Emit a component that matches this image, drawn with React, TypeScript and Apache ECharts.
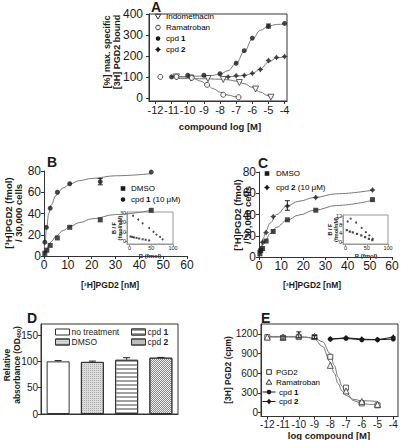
import React, { useEffect, useRef } from 'react';
import * as echarts from 'echarts';

const FONT = '"Liberation Sans", Arial, sans-serif';
const INK = '#1a1a1a';
const FIT = '#777';

// ---------- Panel A ----------
const aTicksX = [-12, -11, -10, -9, -8, -7, -6, -5, -4];
const aTicksY = [0, 100, 200, 300, 400];
const aIndometh = [[-10.7, 100], [-9.8, 95], [-8.75, 92], [-7.8, 88], [-6.8, 73], [-5.8, 42], [-4.85, 3]];
const aRamatroban = [[-11.7, 100], [-10.7, 100], [-9.75, 95], [-8.8, 62], [-7.8, 15], [-6.85, 3]];
const aCpd1 = [[-11, 100], [-10, 108], [-9, 108], [-8, 115], [-7, 165], [-6.5, 225], [-6, 285], [-5, 342], [-4, 355]];
const aCpd2 = [[-7.5, 100], [-7, 106], [-6.5, 107], [-6, 117], [-5.5, 135], [-5, 178], [-4.5, 193], [-4, 197]];
const aErr = [[-5, 333, 352]];
const aFitCpd1 = [[-11, 101], [-10, 102], [-9, 104], [-8.5, 107], [-8, 113], [-7.5, 130], [-7, 165], [-6.5, 220], [-6, 280], [-5.5, 322], [-5, 342], [-4.5, 350], [-4, 353]];
const aFitCpd2 = [[-7.6, 100], [-7, 103], [-6.5, 107], [-6, 116], [-5.5, 138], [-5, 170], [-4.5, 190], [-4, 197]];
const aFitIndo = [[-10.7, 92], [-10, 92], [-9, 91], [-8, 89], [-7.5, 86], [-7, 80], [-6.5, 68], [-6, 50], [-5.5, 27], [-5, 10], [-4.7, 4]];
const aFitRama = [[-10.7, 100], [-10.2, 99], [-9.7, 94], [-9.2, 80], [-8.8, 62], [-8.4, 43], [-8, 27], [-7.5, 13], [-7, 5], [-6.7, 3]];

// ---------- Panel B ----------
const bTicksX = [0, 10, 20, 30, 40, 50, 60];
const bTicksY = [0, 20, 40, 60, 80];
const bDmso = [[0.35, 2.5], [1.2, 5.5], [2.6, 10], [5.6, 17], [10.8, 27], [23.6, 34], [45, 43]];
const bCpd1 = [[0.35, 13], [1, 27], [2.6, 45], [5.6, 60], [10.8, 68], [23.6, 70], [45, 79]];
const bErr = [[23.6, 67, 73]];
const bFitCpd1 = [[0, 0], [0.5, 15], [1, 25], [2, 40], [3, 48], [5, 57], [8, 64], [11, 68], [15, 71], [20, 73], [30, 75.5], [45, 77.5]];
const bFitDmso = [[0, 0], [1, 5.5], [2, 10], [3, 13.5], [5, 18.5], [8, 24], [11, 28], [15, 31.5], [20, 35], [30, 39], [45, 43]];
const bInTicksX = [0, 50, 100];
const bInTicksY = [0, 10, 20, 30];
const bInCpd1 = [[8, 27], [20, 23], [30, 19], [45, 14], [55, 10], [62, 7], [70, 4.5], [76, 2]];
const bInDmso = [[2, 5], [6, 4.5], [10, 4], [16, 3.5], [22, 2.8], [30, 2], [37, 1.5], [45, 0.8]];

// ---------- Panel C ----------
const cTicksX = [0, 10, 20, 30, 40, 50, 60];
const cTicksY = [0, 20, 40, 60, 80];
const cDmso = [[0.4, 3], [0.8, 6], [1.6, 8], [3.2, 15], [6.4, 24], [12.8, 35], [25.6, 44], [51.2, 54]];
const cCpd2 = [[0.4, 6], [1.6, 14], [3.2, 23], [6.4, 38], [12.8, 48], [25.6, 56], [51.2, 63]];
const cErr = [[12.8, 44, 53]];
const cFitCpd2 = [[0, 0], [1, 10], [2, 18], [3, 24], [5, 32], [8, 40], [12.5, 48], [18, 52.5], [25, 56], [35, 59.5], [51.5, 63]];
const cFitDmso = [[0, 0], [1, 6.5], [2, 12], [3, 16], [5, 22], [8, 28], [12.5, 34.5], [18, 39.5], [25, 44], [35, 48.5], [51.5, 53.5]];
const cInTicksX = [0, 50, 100];
const cInTicksY = [0, 4, 8, 12];
const cInCpd2 = [[5, 9.5], [12, 10.8], [25, 9], [38, 6.5], [48, 4.5], [56, 3], [64, 1.5]];
const cInDmso = [[3, 5.5], [10, 4.8], [17, 4.4], [27, 3.7], [37, 3], [46, 2.2], [55, 1.4], [63, 0.8]];

// ---------- Panel D ----------
const dCategories = ['no treatment', 'DMSO', 'cpd 1', 'cpd 2'];
const dValues = [100, 99, 103, 107];
const dErrTop = [101.5, 100.5, 107, 107.5];
const dTicksY = [0, 50, 100, 150];

// ---------- Panel E ----------
const eTicksX = [-12, -11, -10, -9, -8, -7, -6, -5, -4];
const eTicksY = [0, 300, 600, 900, 1200];
const ePgd2 = [[-12, 1150], [-11, 1140], [-10, 1150], [-9, 1150], [-8, 850], [-7, 380], [-6, 140], [-5, 110]];
const eRama = [[-12, 1150], [-11, 1150], [-10, 1180], [-9, 1160], [-8, 720], [-7, 330], [-6, 170], [-5, 125]];
const eCpd1 = [[-8, 1120], [-7, 1130], [-6, 1110], [-5, 1110], [-4, 1120]];
const eCpd2 = [[-8, 1120], [-7, 1140], [-6, 1120], [-5, 1110], [-4, 1150]];
const eErr = [[-10, 1140, 1230], [-11, 1120, 1165], [-9, 1130, 1175]];
const eFitPgd2 = [[-12, 1150], [-10, 1150], [-9, 1140], [-8.5, 1080], [-8, 900], [-7.75, 720], [-7.5, 540], [-7.25, 400], [-7, 300], [-6.5, 180], [-6, 140], [-5.5, 125], [-5, 120]];
const eFitRama = [[-12, 1160], [-10, 1160], [-9.5, 1150], [-9, 1120], [-8.5, 1010], [-8, 770], [-7.75, 600], [-7.5, 440], [-7.25, 330], [-7, 260], [-6.5, 200], [-6, 180], [-5, 170]];

const STAR = 'path://M0,-5L2,-2L5,0L2,2L0,5L-2,2L-5,0L-2,-2Z';
const STAR_PTS = [[0, -5], [2, -2], [5, 0], [2, 2], [0, 5], [-2, 2], [-5, 0], [-2, -2]];

const D_LABELS: Record<string, string> = {
  d_none: 'no treatment', d_dmso: 'DMSO', d_cpd1: '{t|cpd }{b|1}', d_cpd2: '{t|cpd }{b|2}',
};

const A_XMIN = -12.4;

function valAxis(gridIndex: number, min: number, max: number, ticks: number[], fontSize: number, color = '#333', tick = 3, margin = 3, showLabel = true) {
  return {
    type: 'value', gridIndex, min, max,
    axisLine: { show: true, onZero: false, lineStyle: { color, width: 1 } },
    axisTick: { show: true, length: tick, customValues: ticks, lineStyle: { color, width: 1 } },
    axisLabel: {
      show: showLabel,
      customValues: ticks, fontSize, color: INK, fontFamily: FONT, margin,
      showMinLabel: true, showMaxLabel: true, hideOverlap: false,
      formatter: (v: number) => String(v),
    },
    splitLine: { show: false },
  };
}

function errSeries(x: number, y: number, data: number[][], cap: number, upOnly = false) {
  return {
    type: 'custom', xAxisIndex: x, yAxisIndex: y, data, silent: true, z: 5,
    renderItem: (_p: any, api: any) => {
      const xv = api.value(0), lo = api.value(1), hi = api.value(2);
      const p1 = api.coord([xv, lo]);
      const p2 = api.coord([xv, hi]);
      const st = { stroke: '#222', lineWidth: 1 };
      const ch: any[] = [
        { type: 'line', shape: { x1: p1[0], y1: p1[1], x2: p2[0], y2: p2[1] }, style: st },
        { type: 'line', shape: { x1: p2[0] - cap, y1: p2[1], x2: p2[0] + cap, y2: p2[1] }, style: st },
      ];
      if (!upOnly) ch.push({ type: 'line', shape: { x1: p1[0] - cap, y1: p1[1], x2: p1[0] + cap, y2: p1[1] }, style: st });
      return { type: 'group', children: ch };
    },
  };
}

// tick labels for panel A's y axis, placed through the axis scale
function tickLabelSeries(x: number, y: number, xAt: number, ticks: number[], fs: number) {
  return {
    type: 'custom', xAxisIndex: x, yAxisIndex: y, data: ticks.map((v) => [xAt, v]), silent: true, clip: false, z: 6,
    renderItem: (_p: any, api: any) => {
      const v = api.value(1);
      const pt = api.coord([api.value(0), v]);
      return {
        type: 'text', x: pt[0] - 6, y: pt[1],
        style: { text: String(v), fontSize: fs, fontFamily: FONT, fill: INK, align: 'right', verticalAlign: 'middle' },
      };
    },
  };
}

function fit(x: number, y: number, data: number[][]) {
  return {
    type: 'line', xAxisIndex: x, yAxisIndex: y, data, showSymbol: false, symbol: 'none',
    smooth: 0.4, smoothMonotone: 'x', silent: true, z: 2,
    lineStyle: { color: FIT, width: 1 },
  };
}

function pts(name: string, x: number, y: number, data: number[][], symbol: string, size: number, filled: boolean, rotate = 0) {
  return {
    type: 'scatter', name, xAxisIndex: x, yAxisIndex: y, data, symbol, symbolSize: size, symbolRotate: rotate, z: 4,
    itemStyle: filled ? { color: INK } : { color: '#fff', borderColor: '#333', borderWidth: 1 },
  };
}

function marker(kind: string, x: number, y: number): any[] {
  const stroke = { fill: '#fff', stroke: '#333', lineWidth: 1 };
  const fill = { fill: INK };
  const star = (cx: number) => ({ type: 'polygon', shape: { points: STAR_PTS.map(([a, b]) => [cx + a * 0.6, y + b * 0.6]) }, style: fill });
  switch (kind) {
    case 'circle': return [{ type: 'circle', shape: { cx: x, cy: y, r: 2.3 }, style: fill }];
    case 'ecircle': return [{ type: 'circle', shape: { cx: x, cy: y, r: 2.3 }, style: stroke }];
    case 'square': return [{ type: 'rect', shape: { x: x - 2.3, y: y - 2.3, width: 4.6, height: 4.6 }, style: fill }];
    case 'esquare': return [{ type: 'rect', shape: { x: x - 2.3, y: y - 2.3, width: 4.6, height: 4.6 }, style: stroke }];
    case 'etridown': return [{ type: 'polygon', shape: { points: [[x - 2.8, y - 2.2], [x + 2.8, y - 2.2], [x, y + 2.6]] }, style: stroke }];
    case 'etriup': return [{ type: 'polygon', shape: { points: [[x - 2.8, y + 2.2], [x + 2.8, y + 2.2], [x, y - 2.6]] }, style: stroke }];
    case 'star': return [star(x)];
    case 'lcircle': return [
      { type: 'line', shape: { x1: x - 6.5, y1: y, x2: x + 6.5, y2: y }, style: { stroke: INK, lineWidth: 1 } },
      { type: 'circle', shape: { cx: x, cy: y, r: 2.3 }, style: fill }];
    case 'lstar': return [
      { type: 'line', shape: { x1: x - 6.5, y1: y, x2: x + 6.5, y2: y }, style: { stroke: INK, lineWidth: 1 } },
      star(x)];
  }
  return [];
}

function legendText(x: number, y: number, text: string, fs: number) {
  return {
    type: 'text', x, y, silent: true,
    style: {
      text, fontSize: fs, fontFamily: FONT, fill: '#000', align: 'left', verticalAlign: 'middle', lineHeight: fs,
      rich: {
        t: { fontSize: fs, fontFamily: FONT, fill: '#000', lineHeight: fs },
        b: { fontSize: fs, fontFamily: FONT, fill: '#000', fontWeight: 'bold', lineHeight: fs },
      },
    },
  };
}

function legendItem(kind: string, mx: number, tx: number, y: number, text: string, fs: number): any[] {
  return [...marker(kind, mx, y), legendText(tx, y, text, fs)];
}

function txt(x: number, y: number, text: string, size: number, opts: any = {}) {
  return {
    type: 'text', x, y, rotation: opts.rot ? Math.PI / 2 : 0, silent: true,
    style: {
      text, fontSize: size, fontFamily: FONT, fontWeight: opts.weight || 'bold', fill: INK,
      align: opts.align || 'center', verticalAlign: 'middle', lineHeight: opts.lh || size * 1.1,
      rich: opts.rich,
    },
  };
}

export default function App() {
  const ref = useRef<HTMLDivElement>(null);
  useEffect(() => {
    const chart = echarts.init(ref.current!, null, { renderer: 'svg', width: 401, height: 440 });
    const frame = { show: true, borderColor: '#333', borderWidth: 1 };
    const insetFrame = { show: true, borderColor: '#999', borderWidth: 1 };
    const ob = { outerBoundsMode: 'none', containLabel: false };
    const option: any = {
      animation: false,
      backgroundColor: '#fff',
      textStyle: { fontFamily: FONT },
      grid: [
        { left: 149, top: 14, width: 138, height: 87, ...frame, ...ob },         // 0 A
        { left: 44, top: 171, width: 143, height: 85, ...ob },                   // 1 B
        { left: 127, top: 212, width: 46, height: 32, ...insetFrame, ...ob },    // 2 B inset
        { left: 259, top: 172, width: 133, height: 85, ...ob },                  // 3 C
        { left: 343, top: 215, width: 45, height: 29, ...insetFrame, ...ob },    // 4 C inset
        { left: 41, top: 324, width: 137, height: 90, ...frame, ...ob },         // 5 D
        { left: 261, top: 324, width: 137, height: 92.5, ...frame, ...ob },      // 6 E
      ],
      xAxis: [
        valAxis(0, A_XMIN, -3.85, aTicksX, 11),
        valAxis(1, 0, 60, bTicksX, 12),
        valAxis(2, -6, 100, bInTicksX, 5.5, '#999', 2, 1),
        valAxis(3, 0, 60, cTicksX, 12),
        valAxis(4, -6, 100, cInTicksX, 5.5, '#999', 2, 1),
        {
          type: 'category', gridIndex: 5, data: dCategories,
          axisLine: { show: true, lineStyle: { color: '#333' } }, axisTick: { show: false }, axisLabel: { show: false },
        },
        valAxis(6, -12.4, -3.7, eTicksX, 10),
      ],
      yAxis: [
        valAxis(0, -15, 400, aTicksY, 12, '#333', 3, 3, false),
        valAxis(1, 0, 80, bTicksY, 12),
        valAxis(2, -3, 31, bInTicksY, 5.5, '#999', 2, 1),
        valAxis(3, 0, 80, cTicksY, 12),
        valAxis(4, -1, 12.5, cInTicksY, 5.5, '#999', 2, 1),
        valAxis(5, 0, 171, dTicksY, 10),
        valAxis(6, -60, 1350, eTicksY, 10),
      ],
      legend: [
        {
          orient: 'vertical', left: 55, top: 327, data: ['d_none', 'd_dmso'], itemWidth: 14, itemHeight: 6, itemGap: 0, padding: 0,
          icon: 'rect', selectedMode: false, formatter: (n: string) => D_LABELS[n],
          itemStyle: { borderWidth: 1, borderColor: '#333' },
          textStyle: { fontSize: 8.5, lineHeight: 10, color: INK, fontFamily: FONT, padding: [0, 0, 0, -3] },
        },
        {
          orient: 'vertical', left: 131, top: 327, data: ['d_cpd1', 'd_cpd2'], itemWidth: 14, itemHeight: 6, itemGap: 0, padding: 0,
          icon: 'rect', selectedMode: false, formatter: (n: string) => D_LABELS[n],
          itemStyle: { borderWidth: 1, borderColor: '#333' },
          textStyle: {
            fontSize: 8.5, lineHeight: 10, color: INK, fontFamily: FONT, padding: [0, 0, 0, -3],
            rich: { t: { fontSize: 8.5, fontFamily: FONT, color: INK }, b: { fontSize: 8.5, fontFamily: FONT, color: INK, fontWeight: 'bold' } },
          },
        },
      ],
      series: [
        // A
        fit(0, 0, aFitCpd1), fit(0, 0, aFitCpd2), fit(0, 0, aFitIndo), fit(0, 0, aFitRama),
        pts('a_indo', 0, 0, aIndometh, 'triangle', 6, false, 180),
        pts('a_rama', 0, 0, aRamatroban, 'circle', 5, false),
        pts('a_cpd1', 0, 0, aCpd1, 'circle', 5, true),
        pts('a_cpd2', 0, 0, aCpd2, STAR, 6, true),
        errSeries(0, 0, aErr, 2.5),
        tickLabelSeries(0, 0, A_XMIN, aTicksY, 12),
        // B
        fit(1, 1, bFitCpd1), fit(1, 1, bFitDmso),
        pts('b_dmso', 1, 1, bDmso, 'rect', 5, true),
        pts('b_cpd1', 1, 1, bCpd1, 'circle', 5, true),
        errSeries(1, 1, bErr, 2.5),
        // B inset
        pts('bi1', 2, 2, bInCpd1, 'circle', 2, true),
        pts('bi2', 2, 2, bInDmso, 'rect', 2, true),
        // C
        fit(3, 3, cFitCpd2), fit(3, 3, cFitDmso),
        pts('c_dmso', 3, 3, cDmso, 'rect', 5, true),
        pts('c_cpd2', 3, 3, cCpd2, STAR, 6, true),
        errSeries(3, 3, cErr, 2.5),
        // C inset
        pts('ci1', 4, 4, cInCpd2, 'circle', 2.2, true),
        pts('ci2', 4, 4, cInDmso, 'rect', 2.2, true),
        // D
        {
          type: 'bar', name: 'd_none', xAxisIndex: 5, yAxisIndex: 5, barWidth: 23, barGap: '-100%',
          data: [dValues[0], '-', '-', '-'],
          itemStyle: { color: '#fff', borderColor: '#333', borderWidth: 1 },
        },
        {
          type: 'bar', name: 'd_dmso', xAxisIndex: 5, yAxisIndex: 5, barWidth: 23, barGap: '-100%',
          data: ['-', dValues[1], '-', '-'],
          itemStyle: {
            color: '#dcdcdc', borderColor: '#333', borderWidth: 1,
            decal: { symbol: 'rect', symbolSize: 1, dashArrayX: [1, 1], dashArrayY: [1, 1], color: 'rgba(110,110,110,0.45)' },
          },
        },
        {
          type: 'bar', name: 'd_cpd1', xAxisIndex: 5, yAxisIndex: 5, barWidth: 23, barGap: '-100%',
          data: ['-', '-', dValues[2], '-'],
          itemStyle: {
            color: '#fff', borderColor: '#333', borderWidth: 1,
            decal: { symbol: 'rect', symbolSize: 1, dashArrayX: [1, 0], dashArrayY: [1.5, 1.5], color: '#a0a0a0' },
          },
        },
        {
          type: 'bar', name: 'd_cpd2', xAxisIndex: 5, yAxisIndex: 5, barWidth: 23, barGap: '-100%',
          data: ['-', '-', '-', dValues[3]],
          itemStyle: {
            color: '#efefef', borderColor: '#333', borderWidth: 1,
            decal: { symbol: 'rect', symbolSize: 1, dashArrayX: [[1, 1], [0, 1, 1, 0]], dashArrayY: [1, 0], color: '#8a8a8a' },
          },
        },
        errSeries(5, 5, dValues.map((v, i) => [i, v, dErrTop[i]]), 3.5, true),
        // E
        fit(6, 6, eFitPgd2), fit(6, 6, eFitRama),
        pts('e_pgd2', 6, 6, ePgd2, 'rect', 5, false),
        pts('e_rama', 6, 6, eRama, 'triangle', 6, false),
        {
          type: 'line', name: 'e_cpd1', xAxisIndex: 6, yAxisIndex: 6, data: eCpd1, symbol: 'circle', symbolSize: 5,
          itemStyle: { color: INK }, lineStyle: { color: INK, width: 1 }, z: 4,
        },
        {
          type: 'line', name: 'e_cpd2', xAxisIndex: 6, yAxisIndex: 6, data: eCpd2, symbol: STAR, symbolSize: 6,
          itemStyle: { color: INK }, lineStyle: { color: INK, width: 1 }, z: 4,
        },
        errSeries(6, 6, eErr, 2.5),
      ],
      graphic: [
        txt(151, 7, 'A', 14, { align: 'left' }),
        txt(112, 52, '[%] max. specific\n[3H] PGD2 bound', 9, { rot: true, lh: 10 }),
        txt(220, 126, 'compound log [M]', 9.5),
        txt(47, 162, 'B', 14, { align: 'left' }),
        txt(13, 213, '[³H]PGD2 (fmol)\n/ 30,000 cells', 9.5, { rot: true, lh: 10 }),
        txt(110, 285, '[³H]PGD2 [nM]', 8.5),
        txt(117, 228, 'B / F\n(fmol/nM)', 5.5, { rot: true, lh: 6 }),
        txt(150, 255.5, 'B (fmol)', 6),
        txt(258, 163, 'C', 14, { align: 'left' }),
        txt(242, 215, '[³H]PGD2 (fmol)\n/ 30,000 cells', 9.5, { rot: true, lh: 10 }),
        txt(312, 285, '[³H]PGD2 [nM]', 8.5),
        txt(333, 229.5, 'B / F\n(fmol/nM)', 5.5, { rot: true, lh: 6 }),
        txt(366, 255.5, 'B (fmol)', 6),
        txt(27, 318, 'D', 14, { align: 'left' }),
        txt(12, 365, 'Relative\nabsorbance (OD{s|450})', 8.5, { rot: true, lh: 10, rich: { s: { fontSize: 5.5, fontWeight: 'bold', fontFamily: FONT, verticalAlign: 'bottom', padding: [4, 0, 0, 0] } } }),
        txt(261, 318, 'E', 14, { align: 'left' }),
        txt(228, 370, '[3H] PGD2 (cpm)', 8.5, { rot: true }),
        txt(329, 435, 'log compound [M]', 9.5),
        ...legendItem('etridown', 158, 166, 16.5, 'Indomethacin', 8),
        ...legendItem('ecircle', 158, 166, 27.5, 'Ramatroban', 8),
        ...legendItem('circle', 158, 166, 38.5, '{t|cpd }{b|1}', 8),
        ...legendItem('star', 158, 166, 49.5, '{t|cpd }{b|2}', 8),
        ...legendItem('square', 123, 131, 188.5, 'DMSO', 8),
        ...legendItem('circle', 123, 131, 199.5, '{t|cpd }{b|1}{t| (10 μM)}', 8),
        ...legendItem('square', 267, 276, 173.5, 'DMSO', 8),
        ...legendItem('star', 267, 276, 187.5, '{t|cpd }{b|2}{t| (10 μM)}', 8),
        ...legendItem('esquare', 269, 276, 372, 'PGD2', 8),
        ...legendItem('etriup', 269, 276, 382, 'Ramatroban', 8),
        ...legendItem('lcircle', 269, 279, 392, '{t|cpd }{b|1}', 8),
        ...legendItem('lstar', 269, 279, 401.5, '{t|cpd }{b|2}', 8),
      ],
    };
    chart.setOption(option);
    return () => chart.dispose();
  }, []);
  return <div ref={ref} style={{ position: 'absolute', left: 0, top: 0, width: 401, height: 440 }} />;
}
